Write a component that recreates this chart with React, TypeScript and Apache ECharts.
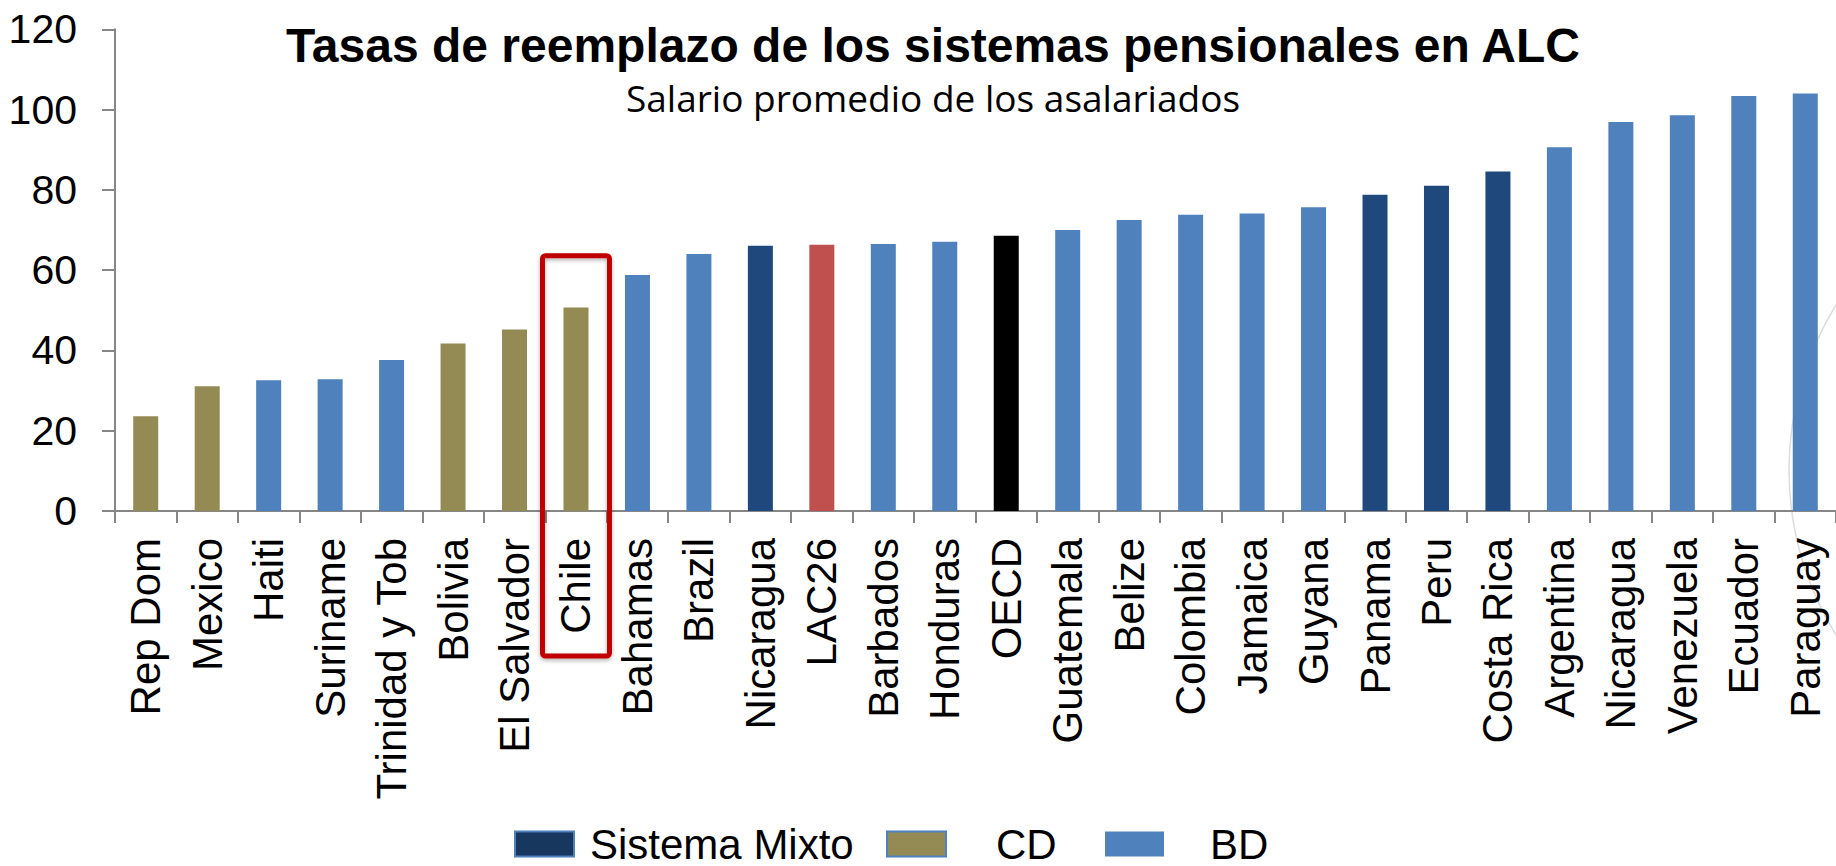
import React, { useEffect, useRef } from "react";
import * as echarts from "echarts";

const categories = [
  "Rep Dom", "Mexico", "Haiti", "Suriname", "Trinidad y Tob", "Bolivia", "El Salvador", "Chile",
  "Bahamas", "Brazil", "Nicaragua", "LAC26", "Barbados", "Honduras", "OECD", "Guatemala",
  "Belize", "Colombia", "Jamaica", "Guyana", "Panama", "Peru", "Costa Rica", "Argentina",
  "Nicaragua", "Venezuela", "Ecuador", "Paraguay",
];

const values = [
  23.6, 31.1, 32.6, 32.8, 37.6, 41.7, 45.2, 50.7,
  58.8, 64.0, 66.1, 66.3, 66.5, 67.1, 68.6, 70.0,
  72.5, 73.8, 74.1, 75.7, 78.8, 81.0, 84.6, 90.6,
  96.9, 98.6, 103.4, 104.0,
];

const systemTypes = [
  "CD", "CD", "BD", "BD", "BD", "CD", "CD", "CD",
  "BD", "BD", "Mixto", "LAC26", "BD", "BD", "OECD", "BD",
  "BD", "BD", "BD", "BD", "Mixto", "Mixto", "Mixto", "BD",
  "BD", "BD", "BD", "BD",
];

const seriesDefs = [
  { name: "Sistema Mixto", key: "Mixto", color: "#1F497D" },
  { name: "CD", key: "CD", color: "#948A54" },
  { name: "BD", key: "BD", color: "#4F81BD" },
  { name: "LAC26", key: "LAC26", color: "#C0504D" },
  { name: "OECD", key: "OECD", color: "#000000" },
];

const yTicks = { min: 0, max: 120, interval: 20 };

const titleText = "Tasas de reemplazo de los sistemas pensionales en ALC";
const subtitleText = "Salario promedio de los asalariados";

const highlightCategory = "Chile";
const highlightTopValue = 63.6;

const FONT = "'Liberation Sans', Arial, Helvetica, sans-serif";

export default function App() {
  const ref = useRef<HTMLDivElement>(null);

  useEffect(() => {
    document.body.style.margin = "0";
    document.body.style.overflow = "hidden";
    if (!ref.current) return;
    const chart = echarts.init(ref.current, null, { renderer: "svg" });

    const series = seriesDefs.map((d) => ({
      name: d.name,
      type: "bar",
      stack: "total",
      barWidth: 25,
      itemStyle: { color: d.color },
      data: values.map((v, i) => (systemTypes[i] === d.key ? v : "-")),
    }));

    const legendBase = {
      orient: "horizontal",
      top: 823,
      padding: 0,
      itemWidth: 59,
      itemHeight: 25,
      icon: "rect",
      selectedMode: false,
      textStyle: { fontSize: 42, fontFamily: FONT, color: "#000", lineHeight: 42 },
    };

    chart.setOption({
      animation: false,
      backgroundColor: "#ffffff",
      title: [
        {
          text: titleText,
          left: 933,
          top: 21,
          textAlign: "center",
          padding: 0,
          textStyle: { fontSize: 48, fontWeight: "bold", fontFamily: FONT, color: "#000" },
        },
        {
          text: subtitleText,
          left: 933,
          top: 79,
          textAlign: "center",
          padding: 0,
          textStyle: { fontSize: 37, fontWeight: "normal", fontFamily: "'Open Sans', sans-serif", color: "#000" },
        },
      ],
      legend: [
        {
          ...legendBase,
          left: 514,
          data: [{ name: "Sistema Mixto", itemStyle: { color: "#17375E", borderColor: "#4F81BD", borderWidth: 2 } }],
          textStyle: { ...legendBase.textStyle, padding: [0, 0, 0, 11] },
        },
        {
          ...legendBase,
          left: 886,
          data: [{ name: "CD", itemStyle: { color: "#948A54", borderColor: "#4F81BD", borderWidth: 2 } }],
          textStyle: { ...legendBase.textStyle, padding: [0, 0, 0, 45] },
        },
        {
          ...legendBase,
          left: 1105,
          data: [{ name: "BD", itemStyle: { color: "#4F81BD" } }],
          textStyle: { ...legendBase.textStyle, padding: [0, 0, 0, 41] },
        },
      ],
      grid: { left: 115, top: 29.3, width: 1723.4, bottom: 355, containLabel: false },
      xAxis: {
        type: "category",
        data: categories,
        boundaryGap: true,
        axisLine: { show: true, lineStyle: { color: "#868686", width: 2 } },
        axisTick: { show: true, length: 12, alignWithLabel: false, interval: 0, lineStyle: { color: "#868686", width: 2 } },
        axisLabel: {
          interval: 0,
          rotate: 90,
          margin: 27,
          fontSize: 42,
          fontFamily: FONT,
          color: "#000",
        },
        splitLine: { show: false },
      },
      yAxis: {
        type: "value",
        min: yTicks.min,
        max: yTicks.max,
        interval: yTicks.interval,
        axisLine: { show: true, lineStyle: { color: "#868686", width: 2 } },
        axisTick: { show: true, length: 13, lineStyle: { color: "#868686", width: 2 } },
        axisLabel: { margin: 38, fontSize: 41, fontFamily: FONT, color: "#000" },
        splitLine: { show: false },
      },
      series,
    });

    const cx = chart.convertToPixel({ xAxisIndex: 0 }, highlightCategory) as number;
    const yTop = chart.convertToPixel({ yAxisIndex: 0 }, highlightTopValue) as number;
    const yBase = chart.convertToPixel({ yAxisIndex: 0 }, 0) as number;
    const yBottom = yBase + 145;

    chart.setOption({
      graphic: [
        {
          type: "circle",
          z: 0,
          silent: true,
          shape: { cx: 2102, cy: 470, r: 313 },
          style: { fill: "none", stroke: "#dcdcdc", lineWidth: 1.5 },
        },
        {
          type: "rect",
          z: 100,
          silent: true,
          shape: { x: cx - 33.5, y: yTop, width: 67, height: yBottom - yTop, r: 3 },
          style: {
            fill: "none",
            stroke: "#C00000",
            lineWidth: 5,
            shadowBlur: 4,
            shadowColor: "rgba(0,0,0,0.3)",
            shadowOffsetY: 2,
          },
        },
      ],
    });

    return () => chart.dispose();
  }, []);

  return (
    <div
      ref={ref}
      style={{ position: "absolute", left: 0, top: 0, width: 1836, height: 866 }}
    />
  );
}
